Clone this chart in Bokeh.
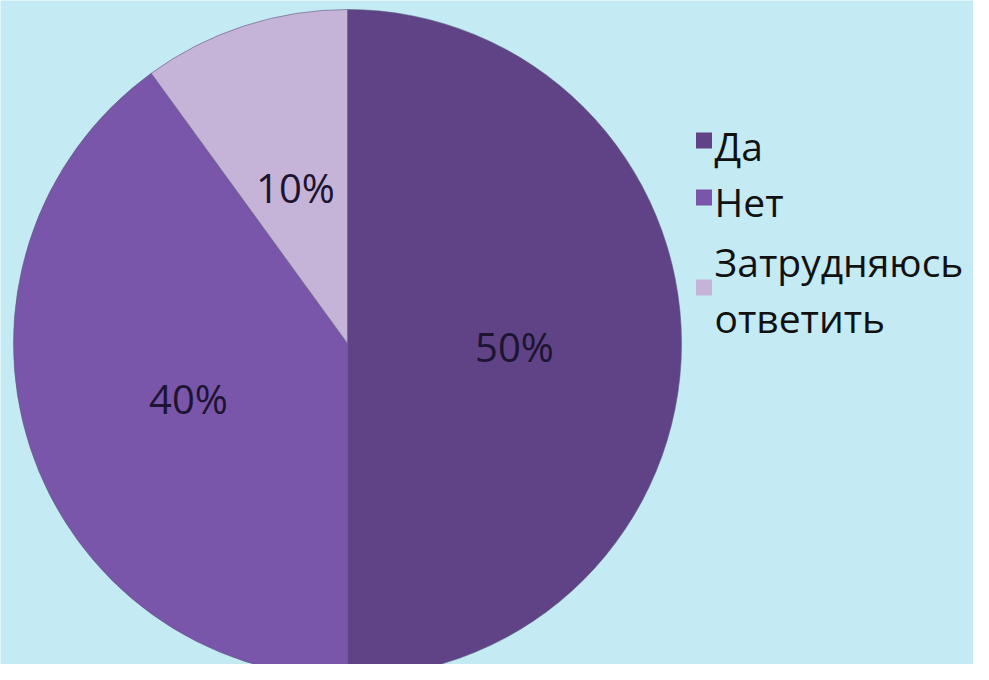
from bokeh.plotting import figure
from bokeh.models import ColumnDataSource
from bokeh.core.properties import value
from bokeh.embed import file_html
from bokeh.resources import INLINE
import math

# data
categories = ["Да", "Нет", "Затрудняюсь ответить"]
shares = [50, 40, 10]
pct_labels = ["50%", "40%", "10%"]
colors = ["#5f4386", "#7a56aa", "#c6b4d8"]

W, H = 973, 664
p = figure(width=W, height=H, x_range=(0, W), y_range=(0, H),
           output_backend="svg", toolbar_location=None, min_border=0)
p.axis.visible = False
p.grid.visible = False
p.outline_line_color = None
p.background_fill_color = "#c4eaf3"
p.border_fill_color = "#c4eaf3"

cx, cy, r = 347, H - 343, 334
cur = 90.0
total = sum(shares)
starts, ends = [], []
for s in shares:
    e = cur - 360.0 * s / total
    starts.append(math.radians(e))
    ends.append(math.radians(cur))
    cur = e

src = ColumnDataSource(dict(start=starts, end=ends, color=colors))
p.wedge(x=cx, y=cy, radius=r, start_angle="start", end_angle="end",
        fill_color="color", line_color="#5c5a80", line_width=0.6, source=src)

# percentage labels
lab_x = [514, 188, 295]
lab_y = [H - 346, H - 398, H - 187]
p.text(x=lab_x, y=lab_y, text=pct_labels, text_font=value("Open Sans"),
       text_font_size="40px", text_color="#1c1430", text_align="center",
       text_baseline="alphabetic")

# legend
sq_x = 703.5
sq_y = [H - 140, H - 197, H - 287]
p.rect(x=[sq_x] * 3, y=sq_y, width=16, height=16,
       fill_color=colors, line_color=None)
third_lines = categories[2].split(" ")
leg_texts = categories[:2] + third_lines
leg_base = [H - 145, H - 201, H - 261, H - 317]
p.text(x=[714] * 4, y=leg_base, text=leg_texts,
       text_font=value("Open Sans"), text_font_size="39px", text_color="#111111",
       text_baseline="alphabetic")

open("out.html", "w").write(file_html(p, INLINE))
